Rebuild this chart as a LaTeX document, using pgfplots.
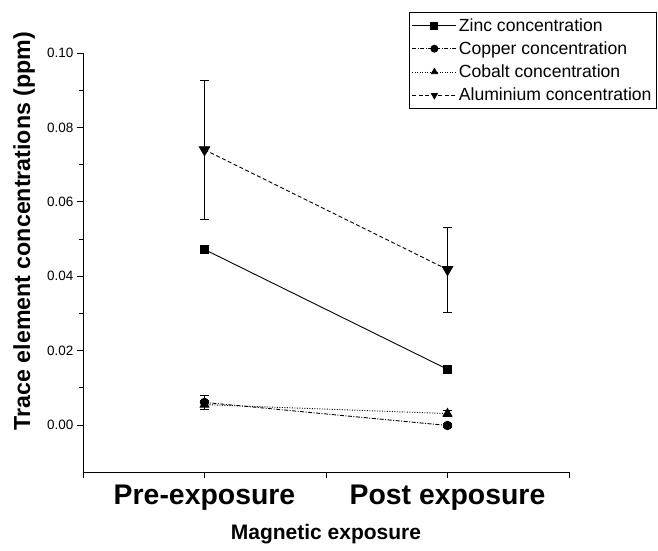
\documentclass[border=0pt]{standalone}
\usepackage{fontspec}
\setmainfont{Liberation Sans}
\usepackage{pgfplots}
\pgfplotsset{compat=1.18}
\newcommand{\ytickfont}{\fontsize{13.5}{15}\selectfont}
\begin{document}
\begin{tikzpicture}[x=1pt,y=1pt]
\useasboundingbox (0,0) rectangle (658,551);
\begin{axis}[
  at={(83pt,79pt)}, anchor=south west,
  scale only axis, width=486pt, height=419pt,
  axis lines=left,
  axis line style={-, line width=0.9pt},
  xmin=0.5, xmax=2.5,
  ymin=-0.0126, ymax=0.1,
  xtick={0.5,1,1.5,2,2.5},
  xticklabels={,Pre-exposure,,Post exposure,},
  ytick={0,0.02,0.04,0.06,0.08,0.1},
  yticklabels={0.00,0.02,0.04,0.06,0.08,0.10},
  minor y tick num=1,
  tick align=outside,
  major tick length=6pt, minor tick length=4pt,
  every tick/.style={black, line width=0.9pt},
  yticklabel style={font=\ytickfont},
  xticklabel style={font=\fontsize{28.4}{32}\selectfont\bfseries, yshift=-3pt},
  xlabel={Magnetic exposure},
  ylabel={Trace element concentrations (ppm)},
  xlabel style={font=\fontsize{21}{24}\selectfont\bfseries,
    at={(axis description cs:0.5,-0.148)}, anchor=center},
  ylabel style={font=\fontsize{23.2}{26}\selectfont\bfseries,
    at={(axis description cs:-0.121,0.575)}, anchor=center},
  clip=false,
  legend style={at={(1.181,1.098)}, anchor=north east, draw=black, line width=0.8pt,
    font=\fontsize{17.6}{21}\selectfont, row sep=5pt, inner xsep=3pt, inner ysep=4pt,
    cells={anchor=west}},
  legend image code/.code={
    \draw[mark repeat=2, mark phase=2, mark size=3.5pt]
      plot coordinates {(0pt,0pt) (22pt,0pt) (44pt,0pt)};},
  every axis plot/.append style={black, line width=0.9pt},
  error bars/error bar style={line width=0.9pt, solid},
  error bars/error mark options={rotate=90, mark size=4.5pt, line width=0.9pt},
]
% Zinc
\addplot[solid, mark=square*, mark size=4pt,
  error bars/.cd, y dir=both, y explicit]
  coordinates {(1,0.0472) +- (0,0.0005) (2,0.0150) +- (0,0.0004)};
\addlegendentry{Zinc concentration}
% Copper
\addplot[dash pattern=on 4pt off 1.5pt on 1pt off 1.5pt, mark=*, mark size=4.2pt,
  mark options={solid},
  error bars/.cd, y dir=both, y explicit]
  coordinates {(1,0.0061) +- (0,0.0019) (2,-0.0001) +- (0,0.0006)};
\addlegendentry{Copper concentration}
% Cobalt
\addplot[dash pattern=on 1pt off 1.5pt, mark=triangle*, mark size=5pt,
  mark options={solid},
  error bars/.cd, y dir=both, y explicit]
  coordinates {(1,0.0055) +- (0,0.0012) (2,0.0031) +- (0,0.0008)};
\addlegendentry{Cobalt concentration}
% Aluminium
\addplot[dash pattern=on 4pt off 2.5pt, mark=triangle*, mark size=6pt,
  mark options={solid, rotate=180},
  error bars/.cd, y dir=both, y explicit]
  coordinates {(1,0.0740) +- (0,0.0187) (2,0.0418) +- (0,0.0114)};
\addlegendentry{Aluminium concentration}
\end{axis}
\end{tikzpicture}
\end{document}
